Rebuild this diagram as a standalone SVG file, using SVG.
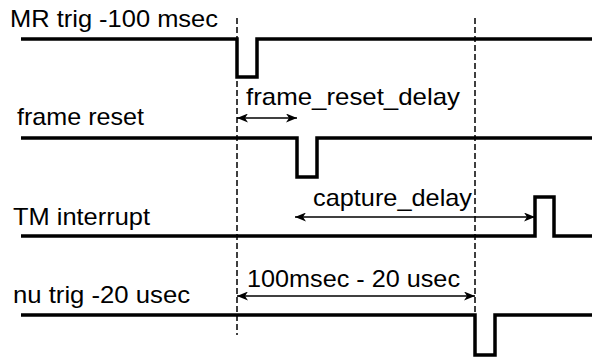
<svg xmlns="http://www.w3.org/2000/svg" width="592" height="359" viewBox="0 0 592 359">
<style>
.sig{fill:none;stroke:#000;stroke-width:3.5;stroke-linejoin:miter}
.dash{fill:none;stroke:#000;stroke-width:1.5;stroke-dasharray:6,3}
.arr{fill:none;stroke:#000;stroke-width:1.5;marker-start:url(#ah);marker-end:url(#ah)}
text{font-family:"Liberation Sans",Arial,sans-serif;font-size:24px;fill:#000}
</style>
<defs>
<marker id="ah" viewBox="0 0 11 9" refX="11" refY="4.5" markerWidth="11" markerHeight="9" markerUnits="userSpaceOnUse" orient="auto-start-reverse">
<path d="M0,0 L11,4.5 L0,9 L3,4.5 Z" fill="#000"/>
</marker>
</defs>
<rect width="592" height="359" fill="#fff"/>
<g id="mr-trig">
<text x="10" y="27" textLength="208" lengthAdjust="spacingAndGlyphs">MR trig -100 msec</text>
<path class="sig" d="M21,39 H237 V77 H257 V39 H592"/>
</g>
<g id="frame-reset">
<text x="17" y="125" textLength="127" lengthAdjust="spacingAndGlyphs">frame reset</text>
<path class="sig" d="M21,138 H297 V177 H317 V138 H592"/>
</g>
<g id="tm-interrupt">
<text x="13" y="225" textLength="137" lengthAdjust="spacingAndGlyphs">TM interrupt</text>
<path class="sig" d="M21,236 H535 V197 H554 V236 H592"/>
</g>
<g id="nu-trig">
<text x="13" y="303" textLength="177" lengthAdjust="spacingAndGlyphs">nu trig -20 usec</text>
<path class="sig" d="M21,315 H475 V355 H495 V315 H592"/>
</g>
<g id="connectors">
<line class="dash" x1="237" y1="18" x2="237" y2="335"/>
<line class="dash" x1="475" y1="18" x2="475" y2="315"/>
<line class="arr" x1="237" y1="118" x2="297" y2="118"/>
<line class="arr" x1="295" y1="217" x2="535" y2="217"/>
<line class="arr" x1="237" y1="296" x2="475" y2="296"/>
</g>
<g id="labels">
<text x="246" y="105" textLength="214" lengthAdjust="spacingAndGlyphs">frame_reset_delay</text>
<text x="313" y="206" textLength="159" lengthAdjust="spacingAndGlyphs">capture_delay</text>
<text x="247" y="287" textLength="213" lengthAdjust="spacingAndGlyphs">100msec - 20 usec</text>
</g>
</svg>
